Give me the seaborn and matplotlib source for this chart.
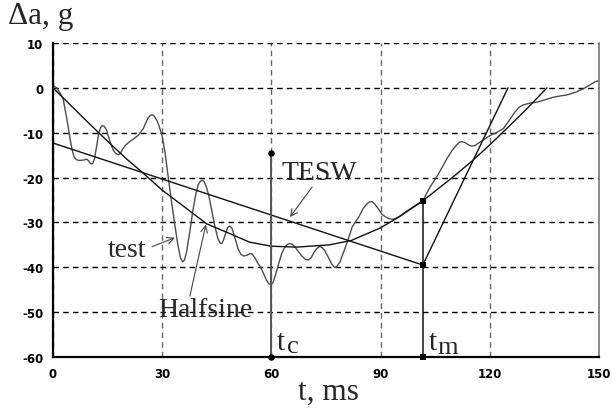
import matplotlib
matplotlib.use("Agg")
import matplotlib.pyplot as plt
import pandas as pd
import seaborn as sns

# Measured acceleration deviation (test)
t_test = [0, 1.0, 2.0, 2.8, 3.8, 4.7, 5.3, 5.8, 6.4, 7.2, 8.3, 9.3, 9.8, 10.3,
          10.9, 11.4, 12.0, 12.6, 13.1, 13.6, 14.1, 14.7, 15.7, 16.5, 17.2, 17.9,
          18.5, 19.2, 19.8, 21.0, 22.1, 23.4, 24.8, 25.6, 26.2, 26.8, 27.3, 27.8,
          28.5, 29.2, 30.0, 30.8, 31.6, 32.5, 33.5, 34.3, 35.0, 35.6, 36.1, 36.7,
          37.6, 38.4, 39.2, 39.9, 40.5, 41.0, 41.5, 42.1, 42.8, 43.6, 44.5, 45.3,
          45.9, 46.4, 46.9, 47.5, 48.0, 48.6, 49.2, 50.0, 50.8, 51.6, 52.4, 53.3,
          54.0, 54.6, 55.4, 56.2, 56.9, 57.8, 58.6, 59.3, 59.9, 60.5, 61.2, 62.0,
          62.8, 63.6, 64.4, 65.1, 65.8, 66.6, 67.4, 68.4, 69.3, 70.1, 70.9, 71.6,
          72.4, 73.1, 73.8, 74.6, 75.6, 76.6, 77.3, 77.9, 78.8, 79.8, 81.0, 82.2,
          84.0, 85.2, 86.2, 87.0, 87.7, 88.4, 89.4, 90.4, 91.4, 92.5, 93.5, 94.4,
          95.3, 97.0, 99.0, 101.6, 102.6, 103.6, 105.9, 108.2, 109.6, 110.9, 111.7,
          112.3, 113.2, 114.1, 115.0, 115.8, 117.3, 118.8, 120.1, 122.0, 123.7,
          125.3, 126.9, 128.1, 129.2, 131.0, 132.9, 135.0, 137.4, 139.3, 141.1,
          143.5, 145.7, 147.0, 148.0, 149.0, 150.0]
a_test = [0.5, 0.0, -1.2, -2.5, -6.9, -11.4, -14.0, -15.4, -16.0, -16.2, -16.1,
          -15.9, -16.3, -16.9, -16.9, -15.8, -12.9, -10.0, -8.8, -8.4, -8.6, -9.4,
          -12.1, -13.8, -14.6, -14.9, -14.6, -13.6, -12.9, -12.0, -11.4, -10.6,
          -9.1, -7.6, -6.6, -6.1, -6.0, -6.3, -7.2, -8.6, -10.8, -14.5, -19.6,
          -25.0, -30.7, -35.0, -37.8, -38.8, -38.4, -36.6, -32.0, -27.5, -23.8,
          -21.6, -20.8, -20.6, -20.9, -22.0, -24.0, -27.3, -31.0, -33.6, -34.6,
          -34.7, -33.8, -32.2, -31.1, -30.8, -31.4, -33.5, -35.8, -37.1, -37.5,
          -37.3, -37.0, -37.0, -37.8, -39.0, -39.8, -41.3, -42.8, -43.7, -43.9,
          -43.3, -41.5, -39.2, -37.0, -35.6, -34.9, -34.7, -34.9, -35.6, -36.5,
          -37.5, -38.2, -38.4, -37.9, -36.8, -35.9, -35.4, -35.5, -36.2, -37.7,
          -39.3, -40.0, -39.9, -38.9, -36.7, -34.0, -31.0, -28.8, -26.9, -25.9,
          -25.4, -25.4, -25.9, -27.0, -28.2, -28.8, -29.2, -29.3, -29.0, -28.6,
          -27.6, -26.5, -25.2, -23.6, -22.1, -19.2, -15.8, -14.0, -12.7, -12.1,
          -12.0, -12.2, -12.7, -13.0, -12.9, -12.1, -11.3, -10.6, -9.9, -9.1,
          -7.3, -5.4, -4.3, -3.8, -3.4, -3.2, -2.7, -2.1, -1.8, -1.6, -1.0, -0.2,
          0.4, 0.9, 1.4, 1.6]

# Half-sine reference pulse
t_half = [0, 5, 10, 15, 20, 23.9, 30, 33.1, 42.2, 48.6, 54, 60, 67, 76, 82, 90,
          95, 101.6, 105, 110, 115, 120, 125, 130, 135.7]
a_half = [0, -4.0, -8.0, -11.9, -15.7, -18.4, -22.8, -24.7, -30.3, -32.5, -34.4,
          -35.3, -35.5, -35.0, -34.0, -31.2, -28.8, -25.2, -23.0, -19.8, -16.4,
          -12.7, -8.8, -4.8, 0]

# Terminal-peak equivalent sawtooth (TESW)
t_tesw = [0, 101.6, 125]
a_tesw = [-12.3, -39.5, 0]

# Characteristic times
t_c = 60
a_c = [-14.5, -60]
t_m = 101.6
a_m = [-25.2, -39.5, -60]

x_ticks = [0, 30, 60, 90, 120, 150]
y_ticks = [-60, -50, -40, -30, -20, -10, 0, 10]

sns.set_theme(style="white")
plt.rcParams['font.family'] = ['DejaVu Sans']
plt.rcParams['axes.unicode_minus'] = False
serif = ['Liberation Serif', 'DejaVu Serif']

fig = plt.figure(figsize=(6.13, 4.10), dpi=100)
ax = fig.add_axes([53 / 613, 52 / 410, 546 / 613, 314 / 410])

dash = (0, (4, 3))
ax.set_xlim(0, 150)
ax.set_ylim(-60, 10)
ax.set_xticks(x_ticks)
ax.set_yticks(y_ticks)
ax.yaxis.grid(True, color='black', linestyle=dash, linewidth=1)
ax.xaxis.grid(True, color='#666666', linestyle=dash, linewidth=1)
ax.set_axisbelow(True)

curves = pd.concat([
    pd.DataFrame({'t': t_test, 'a': a_test, 'kind': 'test'}),
    pd.DataFrame({'t': t_half, 'a': a_half, 'kind': 'Halfsine'}),
    pd.DataFrame({'t': t_tesw, 'a': a_tesw, 'kind': 'TESW'}),
])
palette = {'test': '#4d4d4d', 'Halfsine': '#111111', 'TESW': '#111111'}
sns.lineplot(data=curves, x='t', y='a', hue='kind', palette=palette,
             estimator=None, sort=False, linewidth=1.0, legend=False, ax=ax)

# Vertical markers at t_c and t_m
ax.plot([t_c, t_c], a_c, color='#555555', linewidth=1.4)
ax.plot([t_m, t_m], [a_m[0], a_m[-1]], color='#111111', linewidth=1.1)
sns.scatterplot(x=[t_c] * len(a_c), y=a_c, color='black', marker='o', s=22,
                edgecolor='black', linewidth=0, ax=ax, clip_on=False, zorder=5)
sns.scatterplot(x=[t_m] * len(a_m), y=a_m, color='black', marker='s', s=24,
                edgecolor='black', linewidth=0, ax=ax, clip_on=False, zorder=5)

for side in ['left', 'bottom']:
    ax.spines[side].set_color('black')
    ax.spines[side].set_linewidth(1.6)
ax.spines['right'].set_color('#777777')
ax.spines['right'].set_linewidth(1.2)
ax.spines['top'].set_visible(False)

ax.tick_params(axis='both', length=0, labelsize=8.5, colors='black')
ax.tick_params(axis='y', pad=7)
ax.tick_params(axis='x', pad=7)
for lab in ax.get_xticklabels() + ax.get_yticklabels():
    lab.set_fontweight('bold')
ax.set_xlabel('')
ax.set_ylabel('')

# Curve labels with pointers
arrow = dict(arrowstyle='->', color='#444444', lw=0.8, shrinkA=0, shrinkB=0)
ax.annotate('', xy=(33.5, -33.4), xytext=(27.2, -35.4), arrowprops=arrow)
ax.annotate('', xy=(42.0, -30.5), xytext=(37.6, -46.4), arrowprops=arrow)
ax.annotate('', xy=(65.1, -28.8), xytext=(71.2, -22.1), arrowprops=arrow)
ax.text(15.1, -37.4, 'test', fontsize=20, family=serif, va='baseline')
ax.text(28.8, -50.8, 'Halfsine', fontsize=20, family=serif, va='baseline')
ax.text(62.9, -20.3, 'TESW', fontsize=20, family=serif, va='baseline')

# t_c and t_m labels
ax.text(61.4, -58.2, 't', fontsize=21, family=serif, va='baseline')
ax.text(64.3, -58.8, 'c', fontsize=19, family=serif, va='baseline')
ax.text(103.1, -58.2, 't', fontsize=21, family=serif, va='baseline')
ax.text(105.5, -59.0, 'm', fontsize=19, family=serif, va='baseline')

# Axis titles
fig.text(8 / 613, 1 - 24 / 410, 'Δa, g', fontsize=22.5, family=serif,
         ha='left', va='baseline')
fig.text(298 / 613, 1 - 400 / 410, 't, ms', fontsize=22.5, family=serif,
         ha='left', va='baseline')

fig.savefig('out.png', dpi=100)
